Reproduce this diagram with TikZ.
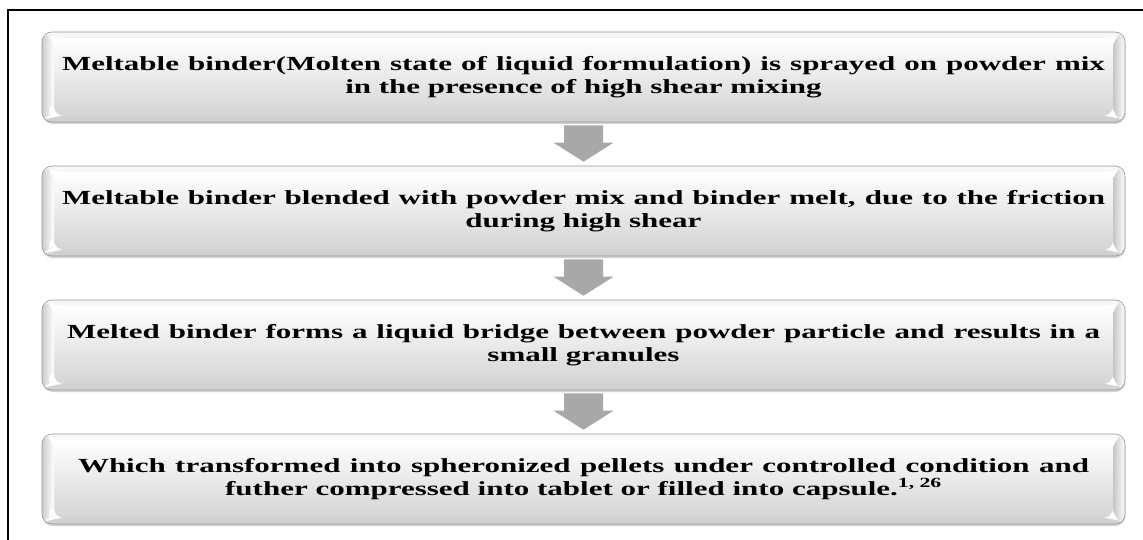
\documentclass[tikz,border=0pt]{standalone}
\usepackage{fontspec}
\usetikzlibrary{calc,shadows}
\newfontfamily\stepfont{Liberation Serif}[FakeStretch=1.55]
\definecolor{arrowgray}{RGB}{168,168,168}
\definecolor{edgegray}{RGB}{150,150,150}
\definecolor{facegray}{RGB}{212,212,212}

% bevelled faces of a step box, drawn inside its outline
\newcommand\bevelfaces{%
  \coordinate (pnw) at (path picture bounding box.north west);
  \coordinate (pse) at (path picture bounding box.south east);
  \coordinate (inw) at ($(pnw)+(12pt,-6pt)$);
  \coordinate (ise) at ($(pse)+(-12pt,6pt)$);
  \shade[top color=white, bottom color=facegray] (inw) rectangle (ise);
  \fill[gray!6] (pnw) -- (pnw -| pse) -- (inw -| ise) -- (inw) -- cycle;
  \fill[gray!36] (pse -| pnw) -- (pse) -- (ise) -- (ise -| inw) -- cycle;
  \shade[left color=gray!40, right color=white]
    (pnw) -- (inw) -- (ise -| inw) -- (pse -| pnw) -- cycle;
  \fill[white] ($(ise -| inw)+(-1pt,-1pt)$) -- ($(ise -| inw)+(-1pt,16pt)$)
    -- ($(pse -| pnw)+(4pt,4pt)$) -- cycle;
  \shade[left color=gray!45, right color=white]
    (pnw -| pse) -- (pse) -- (ise) -- (inw -| ise) -- cycle;
}

\tikzset{
  stepbox/.style={rounded corners=10pt, minimum width=1083pt, minimum height=90pt,
    inner sep=0pt, draw=edgegray, line width=0.6pt, fill=white,
    drop shadow={shadow xshift=0.5pt, shadow yshift=-2pt, opacity=0.35},
    path picture={\bevelfaces}, align=center,
    font=\stepfont\bfseries\fontsize{20}{23}\selectfont},
  downarrow/.style={fill=arrowgray, draw=none, to path={
    let \p1=(\tikztostart), \p2=(\tikztotarget) in
    (\x1-19.5pt,\y1-3pt) -- (\x1+19.5pt,\y1-3pt) -- (\x1+19.5pt,\y2+23pt)
    -- (\x1+30pt,\y2+23pt) -- (\x1,\y2+4pt) -- (\x1-30pt,\y2+23pt)
    -- (\x1-19.5pt,\y2+23pt) -- cycle}},
  frameline/.style={line width=2.5pt, line cap=rect}
}

\begin{document}
\begin{tikzpicture}[x=1pt,y=-1pt]
\useasboundingbox (0,0) rectangle (1143,540);
\fill[white] (0,0) rectangle (1143,540);

% open frame: top and left rules
\draw[frameline] (8,545) -- (8,10) -- (1150,10);

\node[stepbox] (s1) at (583.5,77)
  {\makebox[1043pt][s]{Meltable binder(Molten state of liquid formulation) is sprayed on powder mix}\\
   in the presence of high shear mixing};
\node[stepbox] (s2) at (583.5,211)
  {\makebox[1043pt][s]{Meltable binder blended with powder mix and binder melt, due to the friction}\\
   during high shear};
\node[stepbox] (s3) at (583.5,345)
  {\makebox[1033pt][s]{Melted binder forms a liquid bridge between powder particle and results in a}\\
   small granules};
\node[stepbox] (s4) at (583.5,479)
  {\makebox[1011pt][s]{Which transformed into spheronized pellets under controlled condition and}\\
   futher compressed into tablet or filled into capsule.\textsuperscript{1, 26}};

\path[downarrow] (s1.south) to (s2.north);
\path[downarrow] (s2.south) to (s3.north);
\path[downarrow] (s3.south) to (s4.north);
\end{tikzpicture}
\end{document}
